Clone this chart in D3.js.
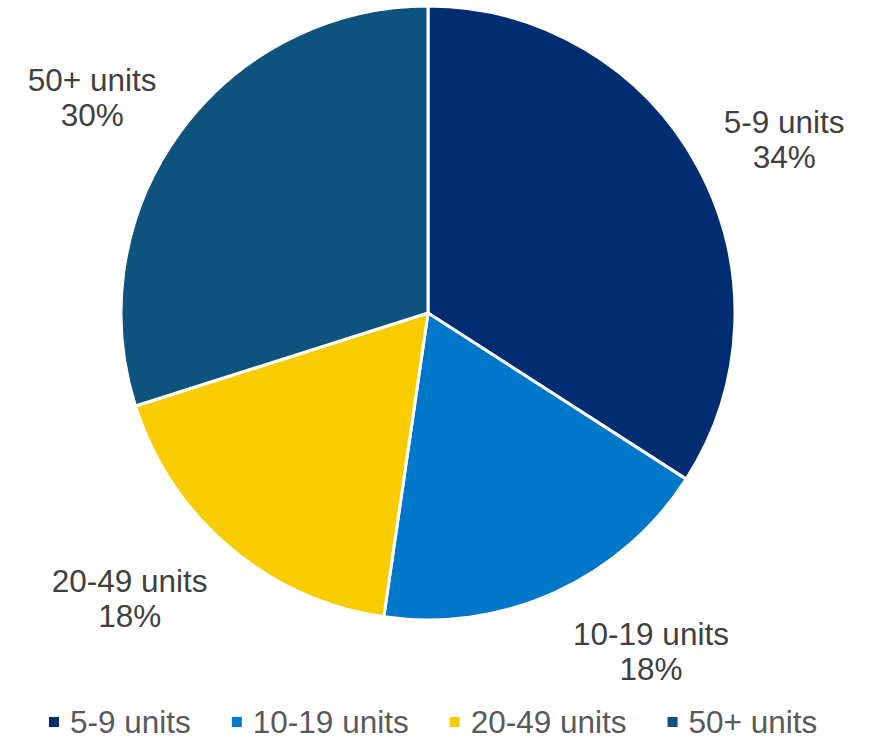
<!DOCTYPE html>
<html><head><meta charset="utf-8">
<script src="https://cdn.jsdelivr.net/npm/d3@7"></script>
<style>body{margin:0;background:#fff;}svg{display:block;font-family:"Liberation Sans",Arial,sans-serif;}</style>
</head><body>
<svg id="c" width="874" height="739"></svg>
<script>
const categories = ["5-9 units", "10-19 units", "20-49 units", "50+ units"];
const values = [34.1, 18.2, 17.8, 29.9];
const colors = ["#002d72", "#0077c8", "#f9cc00", "#0e537e"];

// label layout (angle in degrees clockwise from top, distance from centre)
const labelLayout = [[63.8, 397], [146.5, 404], [226.4, 412], [302.9, 400]];

const svg = d3.select("#c");
const cx = 428, cy = 313, R = 307;
const data = categories.map((c, i) => ({cat: c, v: values[i], color: colors[i]}));
const pie = d3.pie().value(d => d.v).sort(null);
const arc = d3.arc().innerRadius(0).outerRadius(R);
const arcs = pie(data);

const g = svg.append("g").attr("transform", `translate(${cx},${cy})`);
g.selectAll("path").data(arcs).join("path")
  .attr("d", arc).attr("fill", d => d.data.color)
  .attr("stroke", "#fff").attr("stroke-width", 3).attr("stroke-linejoin", "round");

const fs = 31.5;
arcs.forEach((a, i) => {
  const [ang, dist] = labelLayout[i];
  const t = ang * Math.PI / 180;
  const x = dist * Math.sin(t), y = -dist * Math.cos(t);
  const txt = g.append("text").attr("text-anchor", "middle").attr("fill", "#404040")
    .attr("font-size", fs);
  txt.append("tspan").attr("x", x).attr("y", y - 5).text(a.data.cat);
  txt.append("tspan").attr("x", x).attr("y", y + 30).text(Math.round(a.data.v) + "%");
});

// legend
const legend = svg.append("g");
let lx = 49;
data.forEach((d, i) => {
  const item = legend.append("g").attr("transform", `translate(${lx},0)`);
  item.append("rect").attr("x", 0).attr("y", 717).attr("width", 10).attr("height", 10).attr("fill", d.color);
  const t = item.append("text").attr("x", 21).attr("y", 733).attr("font-size", fs)
    .attr("fill", "#595959").text(d.cat);
  const w = t.node().getComputedTextLength();
  lx += 21 + w + 41;
});
</script>
</body></html>
